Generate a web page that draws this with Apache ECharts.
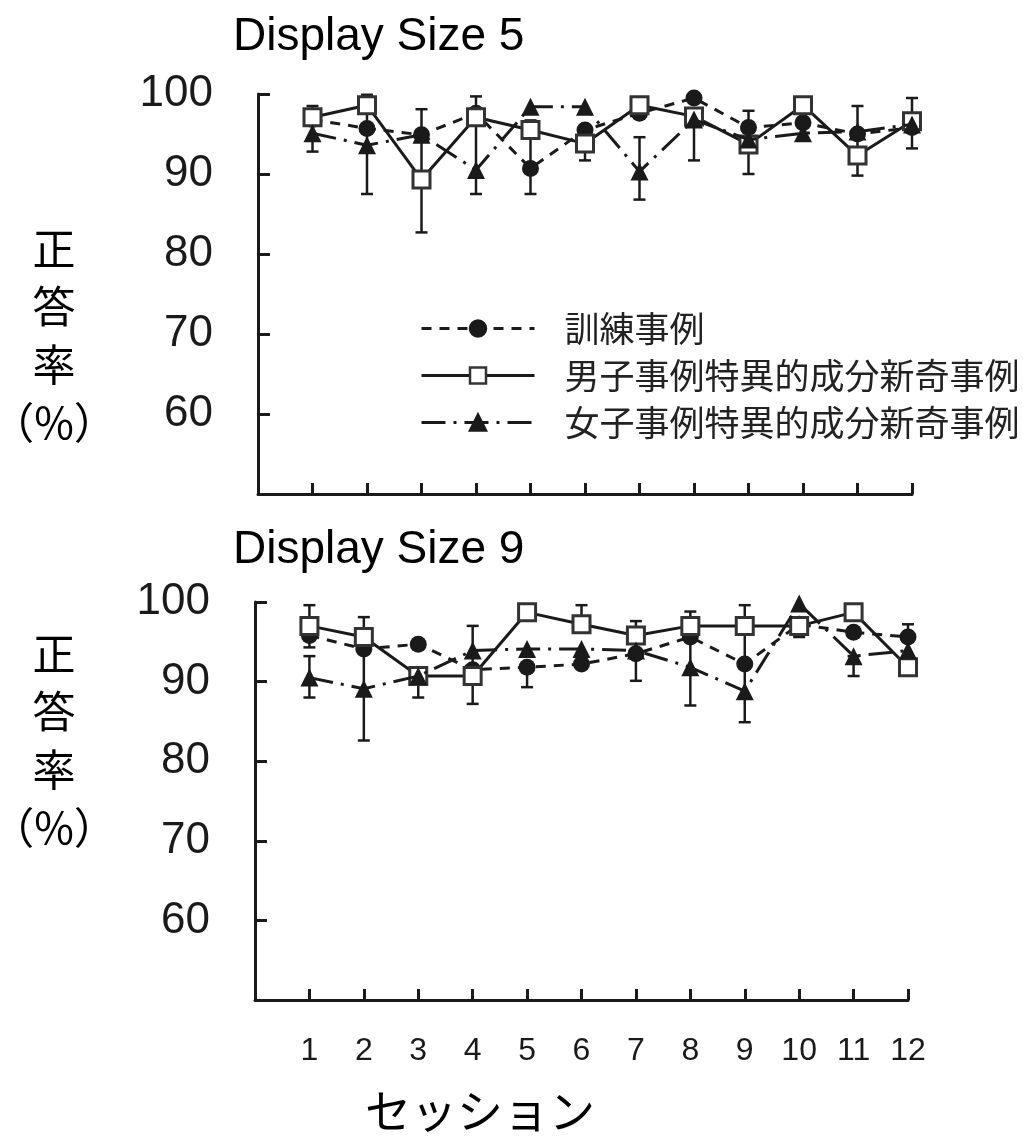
<!DOCTYPE html>
<html>
<head>
<meta charset="utf-8">
<script src="https://cdn.jsdelivr.net/npm/echarts@6/dist/echarts.min.js"></script>
<style>
html,body{margin:0;padding:0;background:#fff;}
#chart{width:1023px;height:1137px;}
</style>
</head>
<body>
<div id="chart"></div>
<script>
// ---- data ----
const sessions = [1,2,3,4,5,6,7,8,9,10,11,12];
const seriesNames = ['訓練事例', '男子事例特異的成分新奇事例', '女子事例特異的成分新奇事例'];
const panelTitles = ['Display Size 5', 'Display Size 9'];
const yTicks = [60, 70, 80, 90, 100];

// Display Size 5
const ds5Train  = [96.8, 95.7, 94.9, 97.6, 90.7, 95.5, 97.6, 99.5, 95.8, 96.4, 95.0, 95.8];
const ds5Male   = [97.1, 98.6, 89.3, 97.1, 95.5, 93.8, 98.6, 97.2, 93.7, 98.6, 92.3, 96.6];
const ds5Female = [95.1, 93.6, 94.9, 90.5, 98.4, 98.4, 90.3, 96.8, 94.3, 95.1, 95.3, 96.2];
// error bars [session, low, high]
const ds5Err = [[1,92.8,98.5],[2,87.5,99.9],[3,82.7,98.1],[4,87.5,99.7],[5,87.5,96.7],[6,91.7,93.8],
                [7,86.8,94.6],[8,91.7,97.2],[9,90.0,97.9],[11,89.8,98.5],[12,93.2,99.5]];

// Display Size 9
const ds9Train  = [95.8, 94.1, 94.7, 91.5, 91.8, 92.2, 93.5, 95.6, 92.2, 97.2, 96.2, 95.6];
const ds9Male   = [97.0, 95.6, 90.7, 90.7, 98.7, 97.2, 95.8, 97.0, 97.0, 97.0, 98.7, 91.8];
const ds9Female = [90.5, 89.1, 90.7, 93.9, 94.1, 94.1, 93.9, 91.8, 88.8, 99.8, 93.2, 93.9];
const ds9Err = [[1,88.0,93.2],[1,94.3,99.6],[2,82.6,98.1],[3,88.0,90.7],[4,87.2,97.0],[5,89.3,91.8],
                [6,97.2,99.6],[7,90.1,97.6],[8,87.0,98.8],[9,84.9,99.6],[10,95.6,97.0],[11,90.7,93.2],[12,95.6,97.2]];

// ---- chart ----
const INK = '#1a1a1a';
const LATIN = '"Liberation Sans", Arial, Helvetica, sans-serif';
const CJK = '"Noto Sans CJK JP", "Noto Sans", sans-serif';

function pairs(vals){ return sessions.map((s,i)=>[s, vals[i]]); }

function errSeries(data, idx){
  return {
    type:'custom', xAxisIndex: idx, yAxisIndex: idx, z: 1, silent: true,
    data: data, encode:{x:0, y:[1,2]},
    renderItem: function(params, api){
      const x = api.value(0), lo = api.value(1), hi = api.value(2);
      const a = api.coord([x, lo]), b = api.coord([x, hi]);
      const w = 6;
      const st = {stroke: INK, lineWidth: 2.5};
      return {type:'group', children:[
        {type:'line', shape:{x1:a[0], y1:a[1], x2:b[0], y2:b[1]}, style:st},
        {type:'line', shape:{x1:a[0]-w, y1:a[1], x2:a[0]+w, y2:a[1]}, style:st},
        {type:'line', shape:{x1:b[0]-w, y1:b[1], x2:b[0]+w, y2:b[1]}, style:st}
      ]};
    }
  };
}

function lineSeries(name, vals, idx, kind){
  const base = {
    name: name, type:'line', xAxisIndex: idx, yAxisIndex: idx,
    data: pairs(vals), symbolSize: 17, clip: false
  };
  if (kind === 'circle') {
    return Object.assign(base, {symbol:'circle', z:2,
      lineStyle:{color:INK, width:3, type:[10,8]},
      itemStyle:{color:INK, borderColor:INK, borderWidth:0}});
  } else if (kind === 'square') {
    return Object.assign(base, {symbol:'rect', z:3, symbolSize: 17,
      lineStyle:{color:INK, width:3, type:'solid'},
      itemStyle:{color:'#ffffff', borderColor:'#333', borderWidth:3}});
  } else {
    return Object.assign(base, {symbol:'triangle', z:4, symbolSize: 18,
      lineStyle:{color:INK, width:3, type:[24,8,3,8]},
      itemStyle:{color:INK, borderColor:INK, borderWidth:0}});
  }
}

function xAx(idx, showLabels){
  return {
    type:'value', gridIndex: idx, min:0, max:12, interval:1,
    axisLine:{show:true, lineStyle:{color:INK, width:3}},
    axisTick:{show:true, inside:true, length:11, lineStyle:{color:INK, width:3}},
    splitLine:{show:false},
    axisLabel:{show: showLabels, margin: 35, fontSize: 32, color: INK, fontFamily: LATIN,
      formatter: v => (v >= 1 && v <= 12) ? String(v) : ''}
  };
}
function yAx(idx){
  return {
    type:'value', gridIndex: idx, min:50, max:100, interval:10,
    axisLine:{show:true, lineStyle:{color:INK, width:3}},
    axisTick:{show:true, inside:true, length:12, lineStyle:{color:INK, width:3}},
    splitLine:{show:false},
    axisLabel:{margin: 45, fontSize: 44, color: INK, fontFamily: LATIN,
      formatter: v => yTicks.indexOf(v) >= 0 ? String(v) : ''}
  };
}

const chart = echarts.init(document.getElementById('chart'), null, {renderer:'canvas'});
chart.setOption({
  animation:false,
  backgroundColor:'#ffffff',
  grid:[
    {left:258, top:94, width:654, height:400},
    {left:255, top:602, width:653, height:398}
  ],
  xAxis:[xAx(0,false), xAx(1,true)],
  yAxis:[yAx(0), yAx(1)],
  legend:{
    orient:'vertical', left:415, top:306, itemWidth:113, itemHeight:20, itemGap:12,
    data: seriesNames, selectedMode:false,
    textStyle:{fontSize:35, lineHeight:35, color:'#222', fontFamily:CJK, padding:[0,0,0,25]},
    lineStyle:{width:3},
    itemStyle:{borderWidth:2.5}
  },
  graphic:[
    {type:'text', x:233, y:37, style:{text:panelTitles[0], fontSize:46, fontFamily:LATIN, fill:'#000', align:'left', verticalAlign:'middle'}},
    {type:'text', x:233, y:550, style:{text:panelTitles[1], fontSize:46, fontFamily:LATIN, fill:'#000', align:'left', verticalAlign:'middle'}},
    {type:'text', x:54, y:336, style:{text:'正\n答\n率\n（%）', fontSize:43, lineHeight:58, fontFamily:CJK, fill:'#000', align:'center', verticalAlign:'middle'}},
    {type:'text', x:54, y:741, style:{text:'正\n答\n率\n（%）', fontSize:43, lineHeight:58, fontFamily:CJK, fill:'#000', align:'center', verticalAlign:'middle'}},
    {type:'text', x:480, y:1111, style:{text:'セッション', fontSize:46, fontFamily:CJK, fill:'#000', align:'center', verticalAlign:'middle'}}
  ],
  series:[
    errSeries(ds5Err, 0),
    lineSeries(seriesNames[0], ds5Train, 0, 'circle'),
    lineSeries(seriesNames[1], ds5Male, 0, 'square'),
    lineSeries(seriesNames[2], ds5Female, 0, 'triangle'),
    errSeries(ds9Err, 1),
    lineSeries(seriesNames[0], ds9Train, 1, 'circle'),
    lineSeries(seriesNames[1], ds9Male, 1, 'square'),
    lineSeries(seriesNames[2], ds9Female, 1, 'triangle')
  ]
});
</script>
</body>
</html>
